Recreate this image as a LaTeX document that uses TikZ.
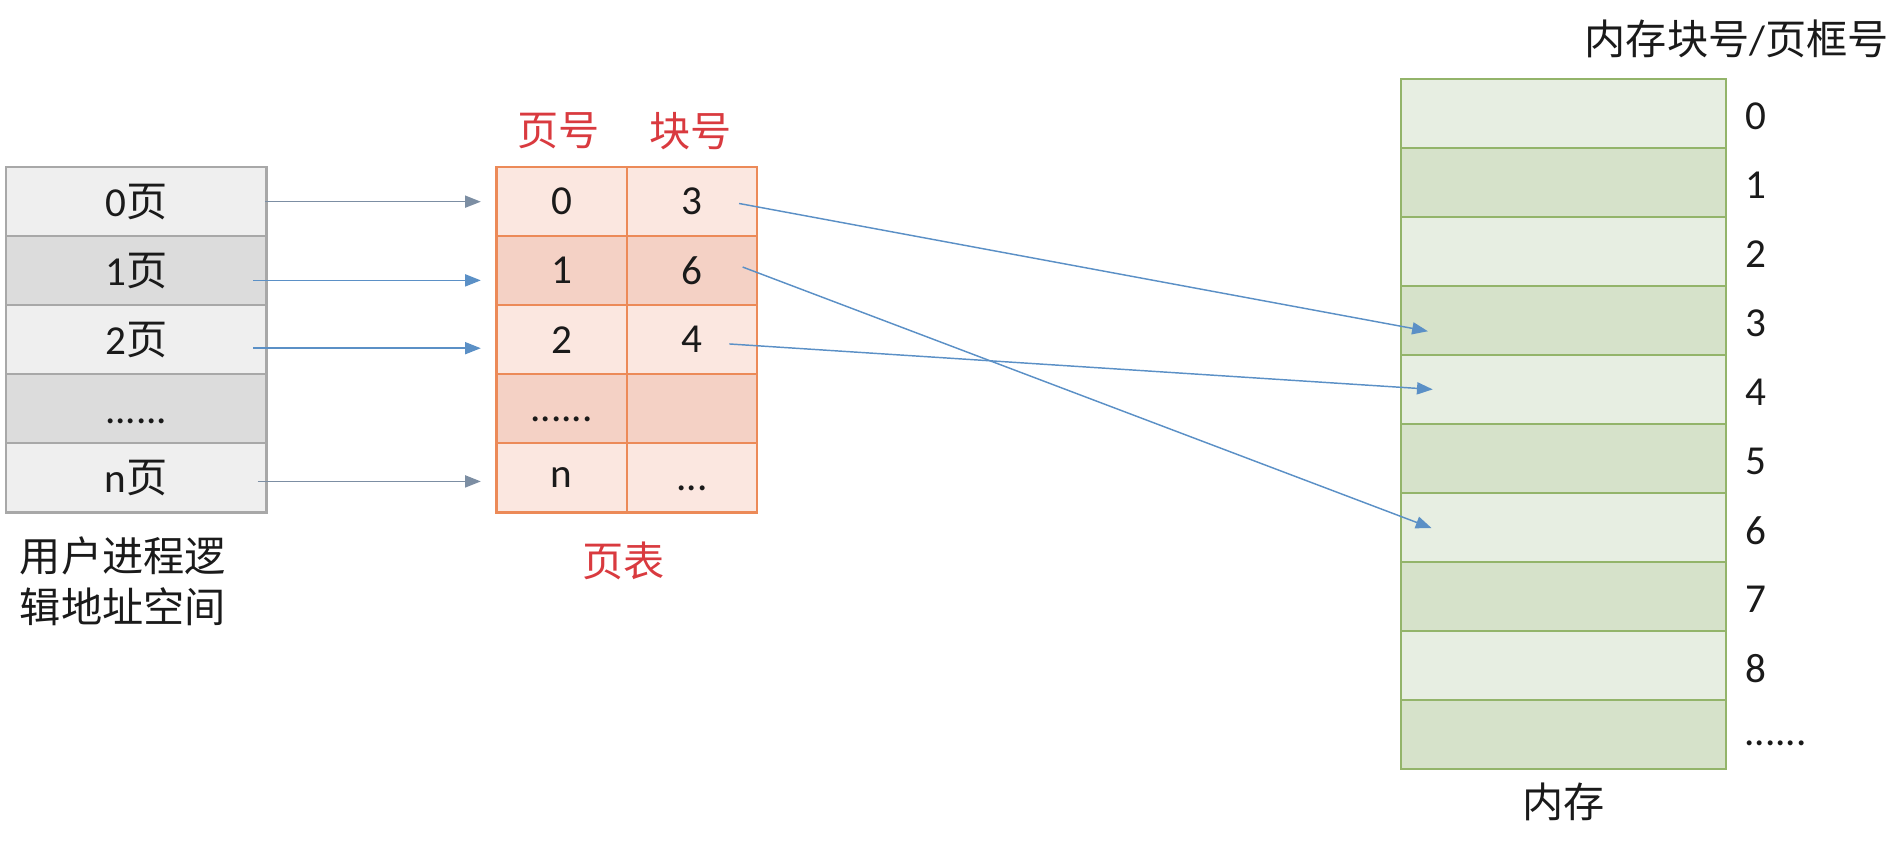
\documentclass[tikz,border=0pt]{standalone}
\usepackage{fontspec}
\setmainfont{Carlito}
\newfontfamily\cjk{Noto Sans CJK SC}
\usetikzlibrary{arrows.meta}
\definecolor{lLight}{HTML}{EFEFEF}
\definecolor{lDark}{HTML}{DCDCDC}
\definecolor{lBorder}{HTML}{A8A8A8}
\definecolor{tLight}{HTML}{FBE7E0}
\definecolor{tDark}{HTML}{F4D1C5}
\definecolor{tBorder}{HTML}{EC8A58}
\definecolor{hRed}{HTML}{D93A3F}
\definecolor{mLight}{HTML}{E7EEE2}
\definecolor{mDark}{HTML}{D6E2CA}
\definecolor{mBorder}{HTML}{93B46A}
\definecolor{arBlue}{HTML}{5B90C6}
\definecolor{arGray}{HTML}{7C8EA3}
\definecolor{txt}{HTML}{1A1A1A}
\begin{document}
\begin{tikzpicture}[x=0.5pt,y=-0.5pt,
  every node/.style={font=\fontsize{17}{20}\selectfont, text=txt},
  lcell/.style={draw=lBorder, line width=1pt, minimum width=107.5pt, minimum height=28.5pt, inner sep=0pt},
  tcell/.style={draw=tBorder, line width=1pt, minimum width=53.75pt, minimum height=28.5pt, inner sep=0pt},
  mcell/.style={draw=mBorder, line width=1pt, minimum width=134pt, minimum height=28.5pt, inner sep=0pt},
  hdr/.style={text=hRed, inner sep=0pt},
  num/.style={inner sep=0pt},
  arrow/.style={line width=0.6pt, -{Triangle[length=6.5pt,width=5pt]}},
  arb/.style={arrow, draw=arBlue, fill=arBlue},
  arg/.style={arrow, draw=arGray, fill=arGray}
]
\useasboundingbox (0,0) rectangle (1568,698);

% left column
\node[lcell, fill=lLight] (L0) at (112.5,166.5) {0{\cjk 页}};
\node[lcell, fill=lDark]  (L1) at (112.5,223.5) {1{\cjk 页}};
\node[lcell, fill=lLight] (L2) at (112.5,280.5) {2{\cjk 页}};
\node[lcell, fill=lDark]  (L3) at (112.5,337.5) {\vphantom{0{\cjk 页}}......};
\node[lcell, fill=lLight] (L4) at (112.5,394.5) {n{\cjk 页}};
\node[anchor=west, inner sep=0pt, align=left] (Llab) at (16,480) {{\cjk 用户进程逻}\\[1pt]{\cjk 辑地址空间}};

% page table
\node[hdr] (H1) at (461,108) {\cjk 页号};
\node[hdr] (H2) at (570,108) {\cjk 块号};
\node[tcell, fill=tLight] (P0) at (463.75,166.5) {0};
\node[tcell, fill=tLight] (B0) at (571.25,166.5) {3};
\node[tcell, fill=tDark]  (P1) at (463.75,223.5) {1};
\node[tcell, fill=tDark]  (B1) at (571.25,223.5) {6};
\node[tcell, fill=tLight] (P2) at (463.75,280.5) {2};
\node[tcell, fill=tLight] (B2) at (571.25,280.5) {4};
\node[tcell, fill=tDark]  (P3) at (463.75,337.5) {\vphantom{0}......};
\node[tcell, fill=tDark]  (B3) at (571.25,337.5) {};
\node[tcell, fill=tLight] (P4) at (463.75,394.5) {n};
\node[tcell, fill=tLight] (B4) at (571.25,394.5) {\vphantom{0}...};
\node[hdr] (PT) at (515,463) {\cjk 页表};

% memory
\foreach \i in {0,...,9}{
  \pgfmathsetmacro{\yy}{93.5+57*\i}
  \ifodd\i
    \node[mcell, fill=mDark] (M\i) at (1291,\yy) {};
  \else
    \node[mcell, fill=mLight] (M\i) at (1291,\yy) {};
  \fi
}
\foreach \i in {0,...,8}{
  \pgfmathsetmacro{\yy}{96+57*\i}
  \node[num] (N\i) at (1450,\yy) {\i};
}
\node[num, anchor=west] (N9) at (1440,605) {\vphantom{0}......};
\node[inner sep=0pt] (MT) at (1434,32) {{\cjk 内存块号}/{\cjk 页框号}};
\node[inner sep=0pt] (MB) at (1291,662) {\cjk 内存};

% arrows left -> table
\draw[arg] ([xshift=-1pt]L0.east) -- ([xshift=-6pt]P0.west);
\draw[arb] ([xshift=-6pt,yshift=-4pt]L1.east) -- ([xshift=-6pt,yshift=-4pt]P1.west);
\draw[arb] ([xshift=-6pt,yshift=-3.5pt]L2.east) -- ([xshift=-6pt,yshift=-3.5pt]P2.west);
\draw[arg] ([xshift=-4pt,yshift=-1.5pt]L4.east) -- ([xshift=-6pt,yshift=-1.5pt]P4.west);

% arrows table -> memory
\draw[arb] ([xshift=19.5pt,yshift=-0.75pt]B0.center) -- ([xshift=11.5pt,yshift=-4.5pt]M3.west);
\draw[arb] ([xshift=21pt,yshift=1.5pt]B1.center) -- ([xshift=13pt,yshift=-0.25pt]M6.west);
\draw[arb] ([xshift=15.5pt,yshift=-1.75pt]B2.center) -- ([xshift=13.5pt]M4.west);
\end{tikzpicture}
\end{document}
